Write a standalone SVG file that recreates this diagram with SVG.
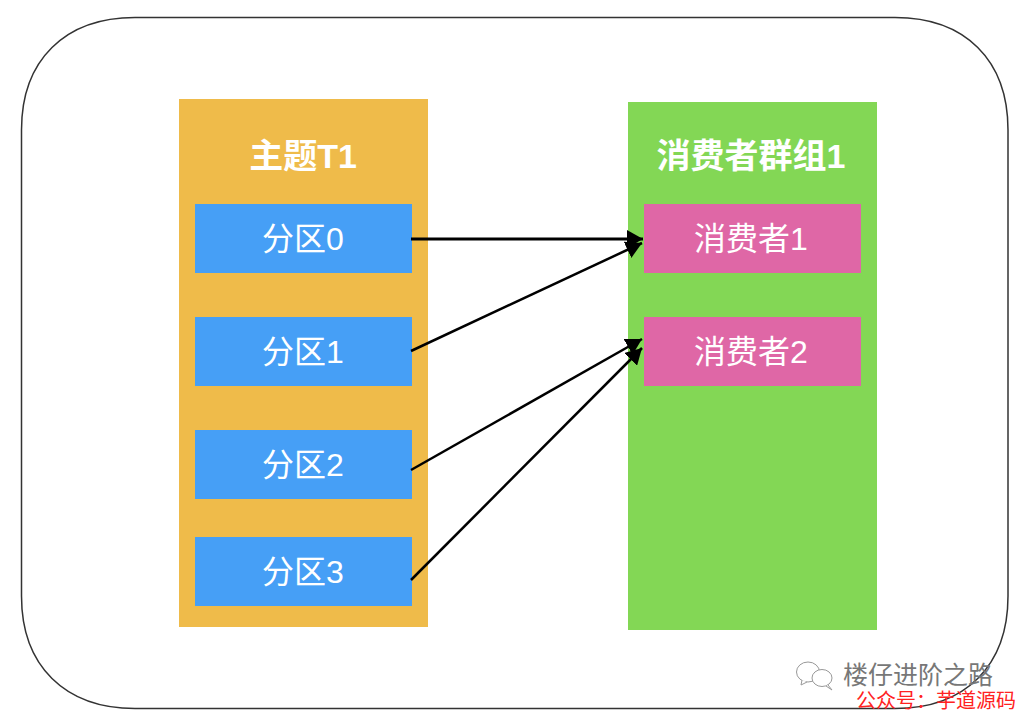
<svg xmlns="http://www.w3.org/2000/svg" width="1026" height="720" viewBox="0 0 1026 720">
<style>
.t{font-family:"Liberation Sans","Noto Sans CJK SC",sans-serif;fill:#fff;text-anchor:middle}
.h{font-size:34px;font-weight:700}
.n{font-size:32px}
.blue{fill:#469FF6}
.pink{fill:#DF67A6}
.c{stroke:#000;fill:none;marker-end:url(#a)}
</style>
<defs>
<marker id="a" markerUnits="userSpaceOnUse" markerWidth="16" markerHeight="18" refX="16" refY="9" orient="auto" viewBox="0 0 16 18"><path d="M0 0L16 9L0 18Z" fill="#000"/></marker>
</defs>
<rect width="1026" height="720" fill="#fff"/>
<path id="frame" d="M135 17.500H895C965 17.500 1008 60 1008 130V596C1008 666 965 708.500 895 708.500H135C65 708.500 21.500 666 21.500 596V130C21.500 60 65 17.500 135 17.500Z" fill="#fff" stroke="#333" stroke-width="1.500"/>
<g id="topic"><rect x="179" y="99" width="249" height="528" fill="#EFBB4A"/><text class="t h" x="303" y="168">主题T1</text></g>
<g id="group"><rect x="628" y="102" width="249" height="528" fill="#83D755"/><text class="t h" x="751" y="168">消费者群组1</text></g>
<g id="p0"><rect class="blue" x="195" y="204" width="217" height="69"/><text class="t n" x="303" y="250">分区0</text></g>
<g id="p1"><rect class="blue" x="195" y="317" width="217" height="69"/><text class="t n" x="303" y="363">分区1</text></g>
<g id="p2"><rect class="blue" x="195" y="430" width="217" height="69"/><text class="t n" x="303" y="476">分区2</text></g>
<g id="p3"><rect class="blue" x="195" y="537" width="217" height="69"/><text class="t n" x="303" y="583">分区3</text></g>
<g id="c1"><rect class="pink" x="644" y="204" width="217" height="69"/><text class="t n" x="751" y="250">消费者1</text></g>
<g id="c2"><rect class="pink" x="644" y="317" width="217" height="69"/><text class="t n" x="751" y="363">消费者2</text></g>
<g id="connectors">
<path class="c" stroke-width="3" d="M411 239L643 239"/>
<path class="c" stroke-width="2.500" d="M411 351L642 243"/>
<path class="c" stroke-width="2.500" d="M411 470L642 339"/>
<path class="c" stroke-width="2.500" d="M411 580L642 348"/>
</g>
<g id="watermark">
<g fill="#fff" stroke="#999" stroke-width="1"><ellipse cx="808" cy="672" rx="11.500" ry="10"/><path d="M802 680L801 685L807 682"/><ellipse cx="822" cy="678" rx="10" ry="8.500"/><path d="M828 685L832 690L826 686"/></g>
<text x="843" y="684" font-family="'Liberation Sans','Noto Sans CJK SC',sans-serif" font-size="25" fill="#777">楼仔进阶之路</text>
<text x="856" y="708" font-family="'Liberation Sans','Noto Sans CJK SC',sans-serif" font-size="20" fill="#f22">公众号：芋道源码</text>
</g>
</svg>
